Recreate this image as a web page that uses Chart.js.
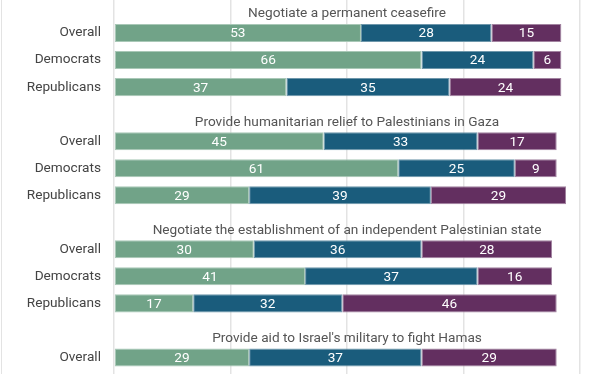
<!DOCTYPE html>
<html>
<head>
<meta charset="utf-8">
<script src="https://cdn.jsdelivr.net/npm/chart.js@4.4.1/dist/chart.umd.min.js"></script>
<style>
  html, body { margin: 0; padding: 0; background: #fff; overflow: hidden; }
  body { width: 612px; height: 374px; position: relative; }
  #edge { position: absolute; left: 1px; top: 0; width: 1px; height: 374px; background: #e3e3e3; }
  #wrap { position: absolute; left: 0; top: -8px; width: 612px; height: 406px; }
</style>
</head>
<body>
<div id="edge"></div>
<div id="wrap"><canvas id="myChart"></canvas></div>
<script>
// section titles and the rows shown under each one
const titles = [
  "Negotiate a permanent ceasefire",
  "Provide humanitarian relief to Palestinians in Gaza",
  "Negotiate the establishment of an independent Palestinian state",
  "Provide aid to Israel's military to fight Hamas"
];
const groupRows = [
  ["Overall", "Democrats", "Republicans"],
  ["Overall", "Democrats", "Republicans"],
  ["Overall", "Democrats", "Republicans"],
  ["Overall"]
];

// values per section (green, blue, purple)
const support = [[53, 66, 37], [45, 61, 29], [30, 41, 17], [29]];
const neutral = [[28, 24, 35], [33, 25, 39], [36, 37, 32], [37]];
const oppose = [[15, 6, 24], [17, 9, 29], [28, 16, 46], [29]];

const xTicks = [0, 25, 50, 75, 100];

// build the slots: a blank slot for each title, then one per row
const labels = [];
const titleSlots = [];
const dSupport = [], dNeutral = [], dOppose = [];
titles.forEach((t, g) => {
  titleSlots.push(labels.length);
  labels.push("");
  dSupport.push(null); dNeutral.push(null); dOppose.push(null);
  groupRows[g].forEach((r, i) => {
    labels.push(r);
    dSupport.push(support[g][i]);
    dNeutral.push(neutral[g][i]);
    dOppose.push(oppose[g][i]);
  });
});
// trailing slot, cut off by the bottom of the frame
labels.push("");
dSupport.push(null); dNeutral.push(null); dOppose.push(null);

const FONT = "Roboto, 'Noto Sans', sans-serif";
const FSIZE = 13.65;

const sectionTitles = {
  id: "sectionTitles",
  afterDatasetsDraw(chart) {
    const { ctx, chartArea, scales } = chart;
    const cx = (chartArea.left + chartArea.right) / 2;
    ctx.save();
    ctx.font = FSIZE + "px " + FONT;
    ctx.fillStyle = "#555";
    ctx.textAlign = "center";
    ctx.textBaseline = "middle";
    titleSlots.forEach((slot, i) => {
      ctx.fillText(titles[i], cx, scales.y.getPixelForValue(slot) + 8);
    });
    ctx.restore();
  }
};

const barLabels = {
  id: "barLabels",
  afterDatasetsDraw(chart) {
    const { ctx } = chart;
    ctx.save();
    ctx.font = FSIZE + "px " + FONT;
    ctx.fillStyle = "#fff";
    ctx.textAlign = "center";
    ctx.textBaseline = "middle";
    chart.data.datasets.forEach((ds, di) => {
      chart.getDatasetMeta(di).data.forEach((bar, i) => {
        const v = ds.data[i];
        if (v == null) return;
        const left = Math.min(bar.x, bar.base);
        const w = Math.abs(bar.x - bar.base);
        ctx.fillText(v, left + w / 2, bar.y + 1);
      });
    });
    ctx.restore();
  }
};

const ctx = document.getElementById("myChart").getContext("2d");
const myChart = new Chart(ctx, {
  type: "bar",
  data: {
    labels: labels,
    datasets: [
      { label: "Support", data: dSupport, backgroundColor: "#71a388", borderColor: "#a9c8b7" },
      { label: "Neutral", data: dNeutral, backgroundColor: "#1a5c7c", borderColor: "#6e97ab" },
      { label: "Oppose", data: dOppose, backgroundColor: "#632f60", borderColor: "#a283a0" }
    ]
  },
  options: {
    indexAxis: "y",
    responsive: true,
    maintainAspectRatio: false,
    animation: false,
    layout: { padding: { top: 0.5, right: 32, bottom: 0, left: 0 } },
    datasets: {
      bar: {
        categoryPercentage: 1,
        barPercentage: 0.667,
        borderWidth: 1,
        borderSkipped: false
      }
    },
    plugins: {
      legend: { display: false },
      tooltip: { enabled: false }
    },
    scales: {
      x: {
        stacked: true,
        min: 0,
        max: 100,
        afterBuildTicks: (s) => { s.ticks = xTicks.map((v) => ({ value: v })); },
        afterFit: (s) => {
          s.height = 0;
          s.paddingLeft = 0; s.paddingRight = 0;
          s.paddingTop = 0; s.paddingBottom = 0;
        },
        ticks: { display: false },
        grid: { color: "#e3e3e3", lineWidth: 1.5, drawTicks: false },
        border: { display: false }
      },
      y: {
        stacked: true,
        afterFit: (s) => {
          s.width = 114;
          s.paddingTop = 0; s.paddingBottom = 0;
        },
        ticks: {
          color: "#444",
          font: { family: FONT, size: FSIZE },
          padding: 13,
          autoSkip: false
        },
        grid: { display: false, drawTicks: false },
        border: { display: false }
      }
    }
  },
  plugins: [sectionTitles, barLabels]
});
</script>
</body>
</html>
